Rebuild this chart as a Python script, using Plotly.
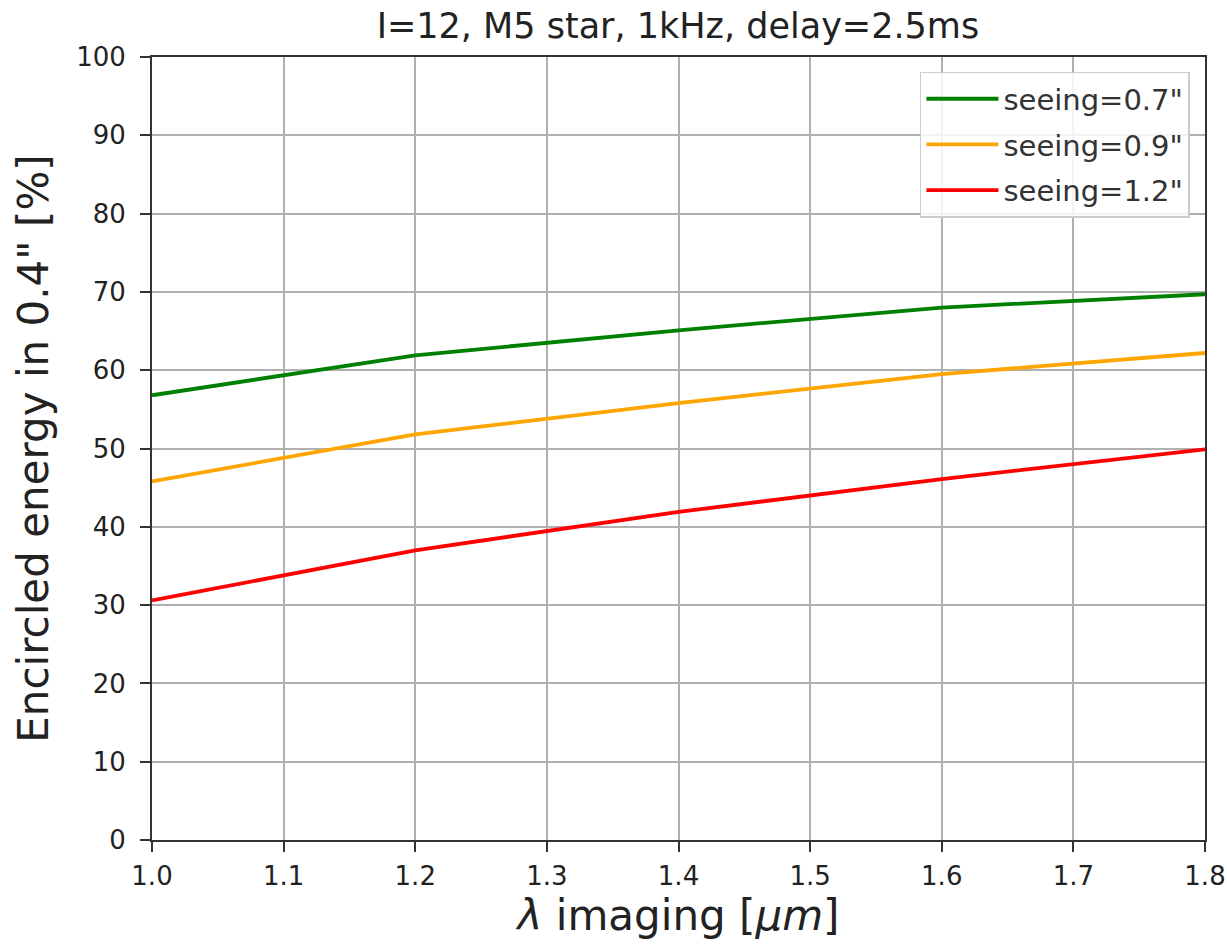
import plotly.graph_objects as go

wavelength = [1.0, 1.2, 1.4, 1.6, 1.8]
ee_seeing_07 = [56.8, 61.9, 65.1, 68.0, 69.7]
ee_seeing_09 = [45.8, 51.8, 55.8, 59.5, 62.2]
ee_seeing_12 = [30.6, 37.0, 41.9, 46.1, 49.9]
series_names = ['seeing=0.7"', 'seeing=0.9"', 'seeing=1.2"']
series_colors = ["green", "orange", "red"]
x_ticks = [1.0, 1.1, 1.2, 1.3, 1.4, 1.5, 1.6, 1.7, 1.8]
y_ticks = list(range(0, 101, 10))

fig = go.Figure()
for i, (name, vals, col) in enumerate(zip(series_names, [ee_seeing_07, ee_seeing_09, ee_seeing_12], series_colors)):
    fig.add_trace(go.Scatter(x=wavelength, y=vals, mode="lines", name=name,
                             legendgroup=f"g{i}",
                             line=dict(color=col, width=3.8)))

font = "DejaVu Sans"
fig.update_layout(
    width=1227, height=946,
    margin=dict(l=152, r=22, t=57, b=106),
    paper_bgcolor="white", plot_bgcolor="white",
    font=dict(family=font, color="#222222", size=26),
    title=dict(text="I=12, M5 star, 1kHz, delay=2.5ms", x=0.5525, xanchor="center",
               y=0.973, yanchor="middle", font=dict(size=35, family=font, color="#222222")),
    showlegend=True,
    legend=dict(x=0.9857, y=0.981, xanchor="right", yanchor="top",
                bgcolor="rgba(255,255,255,0.85)", bordercolor="#cccccc", borderwidth=1.5,
                font=dict(size=29, family=font, color="#333333"),
                itemwidth=72, tracegroupgap=5,
                entrywidth=282, entrywidthmode="pixels"),
)
fig.update_xaxes(range=[1.0, 1.8], tickvals=x_ticks, ticktext=[f"{v:.1f}" for v in x_ticks],
                 automargin=False, ticklabeloverflow="allow", ticklabelstandoff=2,
                 showgrid=True, gridcolor="#b0b0b0", gridwidth=1.5,
                 showline=True, linecolor="#333333", linewidth=2, mirror=True,
                 ticks="outside", ticklen=10, tickwidth=1.5, tickcolor="#333333",
                 tickfont=dict(size=26, family=font, color="#222222"),
                 title=dict(text="<i>λ</i> imaging [<i>μm</i>]", standoff=4,
                            font=dict(size=42, family=font, color="#222222")),
                 zeroline=False)
fig.update_yaxes(range=[0, 100], tickvals=y_ticks,
                 automargin=False, ticklabeloverflow="allow", ticklabelstandoff=9,
                 showgrid=True, gridcolor="#b0b0b0", gridwidth=1.5,
                 showline=True, linecolor="#333333", linewidth=2, mirror=True,
                 ticks="outside", ticklen=10, tickwidth=1.5, tickcolor="#333333",
                 tickfont=dict(size=26, family=font, color="#222222"),
                 title=dict(text='Encircled energy in 0.4" [%]', standoff=14,
                            font=dict(size=42, family=font, color="#222222")),
                 zeroline=False)

fig.write_html("out.html")
